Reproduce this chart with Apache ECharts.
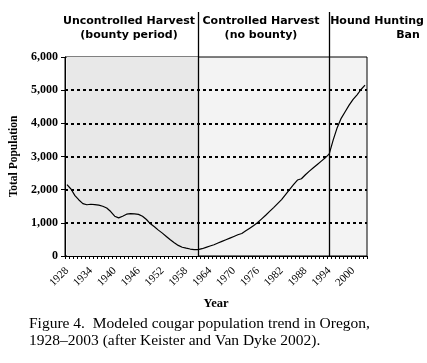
<!DOCTYPE html>
<html><head><meta charset="utf-8">
<script src="https://cdn.jsdelivr.net/npm/echarts@6/dist/echarts.min.js"></script>
<style>html,body{margin:0;padding:0;background:#fff}#c{width:427px;height:363px}</style>
</head><body><div id="c"></div>
<script>
const years = [];
for (let y = 1928; y <= 2003; y++) years.push(String(y));
const population = [
 2150,2020,1820,1690,1580,1545,1560,1550,1535,1500,
 1445,1340,1200,1150,1200,1260,1275,1268,1255,1200,
 1100,970,880,780,690,590,490,400,320,265,
 235,210,195,190,220,260,300,340,390,440,
 490,540,590,640,680,760,840,920,1010,1120,
 1230,1345,1460,1580,1700,1850,2000,2150,2290,2330,
 2450,2560,2660,2760,2860,2960,3080,3500,3870,4150,
 4350,4550,4720,4860,5020,5150
];
const periodBreaks = ['1961', '1994'];
const uncontrolledPeriod = ['1928', '1961'];
const yTicks = { min: 0, max: 6000, interval: 1000 };
const headers = [
  'Uncontrolled Harvest', '(bounty period)',
  'Controlled Harvest', '(no bounty)',
  'Hound Hunting', 'Ban'
];
const caption = ['Figure 4.  Modeled cougar population trend in Oregon,', '1928\u20132003 (after Keister and Van Dyke 2002).'];

const chart = echarts.init(document.getElementById('c'), null, {renderer: 'canvas'});
const hdr = {fontFamily: 'DejaVu Sans', fontWeight: 'bold', fontSize: 11, color: '#000'};
const cap = {fontFamily: 'Liberation Serif', fontWeight: 'normal', fontSize: 15.5, color: '#000'};
const vline = {color: '#000', width: 1.3, type: 'solid'};
chart.setOption({
  animation: false,
  grid: [
    {left: 65, right: 60, top: 57, height: 199, show: true, backgroundColor: '#f3f3f3', borderColor: '#000', borderWidth: 1},
    {left: 65, right: 60, top: 12, height: 45, show: false}
  ],
  xAxis: [
    {gridIndex: 0, type: 'category', data: years, boundaryGap: true, z: 3,
     axisLine: {lineStyle: {color: '#000', width: 1}},
     axisTick: {show: true, interval: 0, length: 3, lineStyle: {color: '#000'}},
     axisLabel: {interval: 5, rotate: 45, color: '#000', fontFamily: 'Liberation Serif', fontSize: 11, margin: 13},
     name: 'Year', nameLocation: 'middle', nameGap: 41,
     nameTextStyle: {fontFamily: 'Liberation Serif', fontWeight: 'bold', fontSize: 12.5, color: '#000'}},
    {gridIndex: 1, type: 'category', data: years, boundaryGap: true, show: false}
  ],
  yAxis: [
    {gridIndex: 0, type: 'value', min: yTicks.min, max: yTicks.max, interval: yTicks.interval, z: 3,
     axisLine: {show: true, lineStyle: {color: '#000'}},
     axisTick: {show: true, length: 4, lineStyle: {color: '#000'}},
     axisLabel: {color: '#000', fontFamily: 'Liberation Serif', fontWeight: 'bold', fontSize: 12, margin: 7,
       formatter: v => v.toLocaleString('en-US')},
     splitLine: {show: true, showMinLine: false, showMaxLine: false, lineStyle: {color: '#000', width: 2, type: [3, 3]}},
     name: 'Total Population', nameLocation: 'middle', nameGap: 34,
     nameTextStyle: {fontFamily: 'Liberation Serif', fontWeight: 'bold', fontSize: 11.5, color: '#000'}},
    {gridIndex: 1, type: 'value', min: 0, max: 1, show: false}
  ],
  series: [
    {type: 'line', xAxisIndex: 0, yAxisIndex: 0, data: [], z: 1,
     markArea: {silent: true, itemStyle: {color: '#e8e8e8'}, data: [[{xAxis: uncontrolledPeriod[0]}, {xAxis: uncontrolledPeriod[1]}]]}},
    {type: 'line', xAxisIndex: 0, yAxisIndex: 0, data: population, showSymbol: false, z: 5,
     lineStyle: {color: '#000', width: 1.2},
     markLine: {silent: true, symbol: 'none', label: {show: false}, lineStyle: vline, data: periodBreaks.map(b => ({xAxis: b}))}},
    {type: 'line', xAxisIndex: 1, yAxisIndex: 1, data: [],
     markLine: {silent: true, symbol: 'none', label: {show: false}, lineStyle: vline, data: periodBreaks.map(b => ({xAxis: b}))}}
  ],
  title: [
    {text: headers[0], left: 129, top: 16, padding: 0, textAlign: 'center', textStyle: hdr},
    {text: headers[1], left: 129, top: 30, padding: 0, textAlign: 'center', textStyle: hdr},
    {text: headers[2], left: 261, top: 16, padding: 0, textAlign: 'center', textStyle: hdr},
    {text: headers[3], left: 261, top: 30, padding: 0, textAlign: 'center', textStyle: hdr},
    {text: headers[4], left: 377, top: 16, padding: 0, textAlign: 'center', textStyle: hdr},
    {text: headers[5], left: 408, top: 30, padding: 0, textAlign: 'center', textStyle: hdr},
    {text: caption[0], left: 29, top: 316, padding: 0, textStyle: cap},
    {text: caption[1], left: 29, top: 333, padding: 0, textStyle: cap}
  ]
});
</script></body></html>
